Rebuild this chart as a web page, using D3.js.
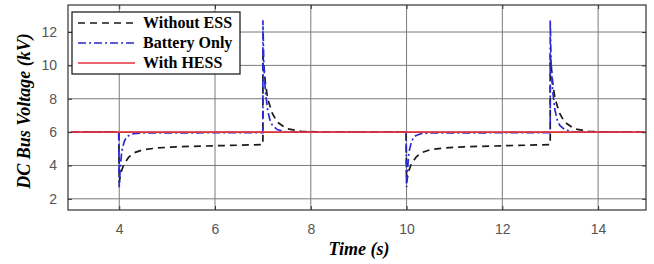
<!DOCTYPE html>
<html>
<head>
<meta charset="utf-8">
<script src="https://cdn.jsdelivr.net/npm/d3@7"></script>
<style>
  body { margin: 0; background: #fff; }
  .tick text { font-family: Arial, "Liberation Sans", sans-serif; font-size: 14px; fill: #555; }
</style>
</head>
<body>
<script>
// series data
var withoutTime = [3, 3.99, 4.0, 4.02, 4.05, 4.1, 4.2, 4.3, 4.5, 4.8, 5.2, 6.0, 7.0, 7.0, 7.02, 7.05, 7.1, 7.2, 7.3, 7.5, 7.8, 8.2,
                   9.99, 10.0, 10.02, 10.05, 10.1, 10.2, 10.3, 10.5, 10.8, 11.2, 12.0, 13.0, 13.0, 13.02, 13.05, 13.1, 13.2, 13.3, 13.5, 13.8, 14.2, 15];
var withoutVolt = [6, 6, 3.0, 3.3, 3.7, 4.1, 4.5, 4.75, 4.95, 5.05, 5.12, 5.18, 5.25, 10.6, 10.0, 9.0, 8.0, 7.1, 6.6, 6.2, 6.05, 6.0,
                   6, 3.0, 3.3, 3.7, 4.1, 4.5, 4.75, 4.95, 5.05, 5.12, 5.18, 5.25, 10.6, 10.0, 9.0, 8.0, 7.1, 6.6, 6.2, 6.05, 6.0, 6.0];

var batteryTime = [3, 3.99, 4.0, 4.02, 4.05, 4.1, 4.15, 4.2, 4.3, 4.5, 7.0, 7.0, 7.02, 7.05, 7.1, 7.15, 7.2, 7.3, 7.5,
                   9.99, 10.0, 10.02, 10.05, 10.1, 10.15, 10.2, 10.3, 10.5, 13.0, 13.0, 13.02, 13.05, 13.1, 13.15, 13.2, 13.3, 13.5, 15];
var batteryVolt = [6, 6, 2.7, 3.8, 4.8, 5.4, 5.7, 5.8, 5.9, 5.95, 5.97, 12.7, 10.0, 8.5, 7.3, 6.7, 6.4, 6.15, 6.0,
                   6, 2.7, 3.8, 4.8, 5.4, 5.7, 5.8, 5.9, 5.95, 5.97, 12.7, 10.0, 8.5, 7.3, 6.7, 6.4, 6.15, 6.0, 6.0];

var hessTime = [3, 15];
var hessVolt = [6, 6];

var xTicks = [4, 6, 8, 10, 12, 14];
var yTicks = [2, 4, 6, 8, 10, 12];
var legendNames = ["Without ESS", "Battery Only", "With HESS"];

var width = 654, height = 264;
var margin = { left: 68, right: 8, top: 5, bottom: 54 };

var svg = d3.select("body").append("svg")
            .attr("width", width)
            .attr("height", height);

var x = d3.scaleLinear().domain([2.93, 15]).range([margin.left, width - margin.right]);
var y = d3.scaleLinear().domain([1.33, 13.62]).range([height - margin.bottom, margin.top]);

// grid lines
svg.append("g").selectAll("line").data(xTicks).join("line")
   .attr("x1", function(d) { return x(d); }).attr("x2", function(d) { return x(d); })
   .attr("y1", y.range()[0]).attr("y2", y.range()[1])
   .attr("stroke", "#7a7a7a").attr("stroke-width", 1);
svg.append("g").selectAll("line").data(yTicks).join("line")
   .attr("y1", function(d) { return y(d); }).attr("y2", function(d) { return y(d); })
   .attr("x1", x.range()[0]).attr("x2", x.range()[1])
   .attr("stroke", "#7a7a7a").attr("stroke-width", 1);

// series
var line = d3.line().x(function(d) { return x(d[0]); }).y(function(d) { return y(d[1]); });
function pairs(t, v) { return t.map(function(d, i) { return [d, v[i]]; }); }

var styles = [
  { color: "#1a1a1a", dash: "7,5", pts: pairs(withoutTime, withoutVolt) },
  { color: "#2a2ad0", dash: "8,3,2,3", pts: pairs(batteryTime, batteryVolt) },
  { color: "#e3323c", dash: null, pts: pairs(hessTime, hessVolt) }
];

styles.forEach(function(s) {
  svg.append("path")
     .attr("d", line(s.pts))
     .attr("fill", "none")
     .attr("stroke", s.color)
     .attr("stroke-width", 1.7)
     .attr("stroke-dasharray", s.dash);
});

// axes with inward ticks (box style)
svg.append("g").attr("transform", "translate(0," + y.range()[0] + ")")
   .call(d3.axisBottom(x).tickValues(xTicks).tickSize(-4).tickPadding(14))
   .call(function(g) { g.select(".domain").remove(); });
svg.append("g").attr("transform", "translate(" + x.range()[0] + ",0)")
   .call(d3.axisLeft(y).tickValues(yTicks).tickSize(-4).tickPadding(11))
   .call(function(g) { g.select(".domain").remove(); });
svg.append("g").attr("transform", "translate(0," + y.range()[1] + ")")
   .call(d3.axisTop(x).tickValues(xTicks).tickSize(-4).tickFormat(""))
   .call(function(g) { g.select(".domain").remove(); });
svg.append("g").attr("transform", "translate(" + x.range()[1] + ",0)")
   .call(d3.axisRight(y).tickValues(yTicks).tickSize(-4).tickFormat(""))
   .call(function(g) { g.select(".domain").remove(); });
svg.selectAll(".tick line").attr("stroke", "#333");

// box
svg.append("rect")
   .attr("x", x.range()[0]).attr("y", y.range()[1])
   .attr("width", x.range()[1] - x.range()[0])
   .attr("height", y.range()[0] - y.range()[1])
   .attr("fill", "none").attr("stroke", "#333").attr("stroke-width", 1.2);

// axis titles
svg.append("text")
   .attr("x", 359).attr("y", 255)
   .attr("text-anchor", "middle")
   .style("font-family", "'Liberation Serif', 'DejaVu Serif', serif")
   .style("font-size", "18px").style("font-weight", "bold").style("font-style", "italic")
   .text("Time (s)");
svg.append("text")
   .attr("transform", "translate(30,111) rotate(-90)")
   .attr("text-anchor", "middle")
   .style("font-family", "'Liberation Serif', 'DejaVu Serif', serif")
   .style("font-size", "18px").style("font-weight", "bold").style("font-style", "italic")
   .text("DC Bus Voltage (kV)");

// legend
var legend = svg.append("g").attr("transform", "translate(72,12)");
legend.append("rect")
      .attr("width", 168).attr("height", 62)
      .attr("fill", "#fff").attr("stroke", "#111").attr("stroke-width", 1.2);
legendNames.forEach(function(name, i) {
  var ly = 11 + i * 20;
  legend.append("line")
        .attr("x1", 6).attr("x2", 63).attr("y1", ly).attr("y2", ly)
        .attr("stroke", styles[i].color).attr("stroke-width", 1.7)
        .attr("stroke-dasharray", styles[i].dash);
  legend.append("text")
        .attr("x", 71).attr("y", ly + 5)
        .style("font-family", "'Liberation Serif', 'DejaVu Serif', serif")
        .style("font-size", "16px").style("font-weight", "bold")
        .text(name);
});
</script>
</body>
</html>
